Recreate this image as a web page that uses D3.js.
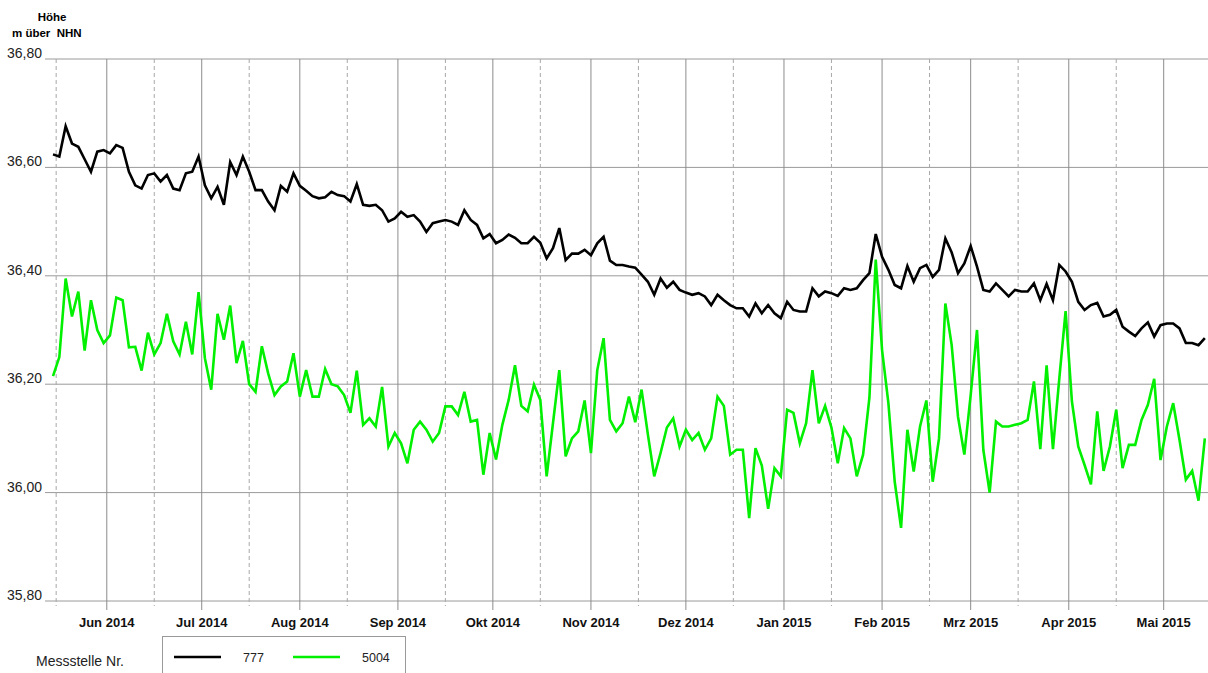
<!DOCTYPE html>
<html>
<head>
<meta charset="utf-8">
<script src="https://cdn.jsdelivr.net/npm/d3@7"></script>
<style>
  body { margin: 0; background: #fff; }
  svg { display: block; font-family: "Liberation Sans", Arial, sans-serif; }
</style>
</head>
<body>
<div id="chart"></div>
<script>
const svgWidth = 1208;
const svgHeight = 673;

// every second day from 15 May 2014
const startDate = new Date(2014, 4, 15);
const endDate = new Date(2015, 4, 15);
const stepDays = 2;

const yTicks = [35.8, 36.0, 36.2, 36.4, 36.6, 36.8];

const level777 = [
  36.624, 36.620, 36.676, 36.644, 36.638, 36.615, 36.592, 36.629, 36.632, 36.626,
  36.641, 36.636, 36.592, 36.567, 36.561, 36.586, 36.589, 36.574, 36.586, 36.561,
  36.558, 36.589, 36.592, 36.620, 36.567, 36.543, 36.564, 36.531, 36.610, 36.586,
  36.620, 36.592, 36.558, 36.558, 36.537, 36.521, 36.566, 36.555, 36.589, 36.566,
  36.557, 36.547, 36.543, 36.545, 36.555, 36.549, 36.547, 36.537, 36.569, 36.531,
  36.529, 36.531, 36.521, 36.500, 36.506, 36.518, 36.509, 36.512, 36.500, 36.481,
  36.497, 36.500, 36.503, 36.500, 36.494, 36.521, 36.503, 36.494, 36.469, 36.477,
  36.460, 36.466, 36.476, 36.470, 36.460, 36.460, 36.472, 36.461, 36.432, 36.451,
  36.488, 36.429, 36.441, 36.441, 36.448, 36.438, 36.460, 36.472, 36.428, 36.420,
  36.420, 36.417, 36.415, 36.402, 36.389, 36.365, 36.395, 36.378, 36.389, 36.374,
  36.369, 36.365, 36.368, 36.362, 36.346, 36.365, 36.355, 36.346, 36.340, 36.340,
  36.325, 36.349, 36.331, 36.346, 36.331, 36.322, 36.352, 36.337, 36.334, 36.334,
  36.377, 36.362, 36.371, 36.368, 36.363, 36.377, 36.374, 36.377, 36.392, 36.405,
  36.477, 36.435, 36.411, 36.383, 36.377, 36.418, 36.389, 36.414, 36.420, 36.398,
  36.411, 36.469, 36.443, 36.405, 36.423, 36.455, 36.417, 36.374, 36.371, 36.386,
  36.374, 36.362, 36.374, 36.371, 36.371, 36.386, 36.355, 36.385, 36.355, 36.420,
  36.408, 36.389, 36.352, 36.337, 36.346, 36.350, 36.325, 36.328, 36.337, 36.306,
  36.297, 36.289, 36.303, 36.314, 36.288, 36.309, 36.312, 36.312, 36.303, 36.276,
  36.276, 36.272, 36.285
];

const level5004 = [
  36.215, 36.250, 36.395, 36.325, 36.371, 36.262, 36.355, 36.300, 36.276, 36.290,
  36.360, 36.355, 36.268, 36.269, 36.225, 36.295, 36.255, 36.276, 36.330, 36.279,
  36.255, 36.315, 36.255, 36.370, 36.248, 36.190, 36.330, 36.282, 36.345, 36.239,
  36.280, 36.200, 36.186, 36.270, 36.220, 36.180, 36.196, 36.205, 36.257, 36.177,
  36.226, 36.177, 36.177, 36.228, 36.200, 36.196, 36.180, 36.147, 36.225, 36.125,
  36.137, 36.122, 36.195, 36.085, 36.110, 36.091, 36.054, 36.116, 36.131, 36.116,
  36.094, 36.110, 36.159, 36.159, 36.143, 36.186, 36.131, 36.134, 36.033, 36.110,
  36.061, 36.125, 36.171, 36.235, 36.160, 36.150, 36.199, 36.171, 36.030, 36.128,
  36.226, 36.067, 36.100, 36.113, 36.170, 36.073, 36.226, 36.285, 36.134, 36.113,
  36.128, 36.177, 36.130, 36.190, 36.107, 36.030, 36.073, 36.120, 36.137, 36.085,
  36.116, 36.097, 36.110, 36.079, 36.100, 36.177, 36.160, 36.070, 36.079, 36.079,
  35.953, 36.082, 36.050, 35.970, 36.045, 36.030, 36.153, 36.147, 36.091, 36.128,
  36.226, 36.128, 36.160, 36.120, 36.054, 36.119, 36.100, 36.030, 36.070, 36.175,
  36.430, 36.263, 36.165, 36.020, 35.935, 36.116, 36.039, 36.122, 36.170, 36.020,
  36.100, 36.349, 36.272, 36.140, 36.070, 36.180, 36.300, 36.079, 36.000, 36.131,
  36.122, 36.122, 36.125, 36.128, 36.134, 36.205, 36.080, 36.235, 36.080, 36.210,
  36.335, 36.168, 36.085, 36.051, 36.015, 36.150, 36.040, 36.085, 36.153, 36.045,
  36.088, 36.088, 36.134, 36.162, 36.210, 36.060, 36.122, 36.165, 36.097, 36.024,
  36.040, 35.985, 36.100
];

const seriesNames = ['777', '5004'];
const seriesColors = ['#000000', '#00f000'];

const deFormat = d3.formatLocale({ decimal: ',', thousands: '.', grouping: [3], currency: ['', ' €'] });
const fmtY = deFormat.format('.2f');
const deMonths = ['Jan', 'Feb', 'Mrz', 'Apr', 'Mai', 'Jun', 'Jul', 'Aug', 'Sep', 'Okt', 'Nov', 'Dez'];
const fmtX = (d) => `${deMonths[d.getMonth()]} ${d.getFullYear()}`;

const svg = d3.select('#chart').append('svg').attr('width', svgWidth).attr('height', svgHeight);

const x = d3.scaleTime().domain([startDate, endDate]).range([53, 1208]);
const y = d3.scaleLinear().domain([35.8, 36.8]).range([601, 59]);

const dates = level777.map((_, i) => d3.timeDay.offset(startDate, i * stepDays));

// horizontal grid + labels
const gridY = svg.append('g');
gridY
  .selectAll('line')
  .data(yTicks)
  .join('line')
  .attr('x1', 45)
  .attr('x2', svgWidth)
  .attr('y1', (d) => y(d))
  .attr('y2', (d) => y(d))
  .attr('stroke', '#9a9a9a')
  .attr('stroke-width', 1);
gridY
  .selectAll('text')
  .data(yTicks)
  .join('text')
  .attr('x', 42)
  .attr('y', (d) => y(d) - 1)
  .attr('text-anchor', 'end')
  .style('font-size', '14px')
  .attr('fill', '#222')
  .text((d) => fmtY(d));

// vertical grid: month starts solid, 16th dashed
const monthStarts = d3.timeMonth.range(d3.timeMonth.ceil(startDate), endDate);
const midMonths = d3.timeMonth
  .range(d3.timeMonth.floor(startDate), endDate)
  .map((d) => d3.timeDay.offset(d, 15))
  .filter((d) => d >= startDate && d <= endDate);

svg
  .append('g')
  .selectAll('line')
  .data(midMonths)
  .join('line')
  .attr('x1', (d) => x(d))
  .attr('x2', (d) => x(d))
  .attr('y1', y(36.8))
  .attr('y2', y(35.8) + 5)
  .attr('stroke', '#a8a8a8')
  .attr('stroke-width', 1)
  .attr('stroke-dasharray', '4 3');

svg
  .append('g')
  .selectAll('line')
  .data(monthStarts)
  .join('line')
  .attr('x1', (d) => x(d))
  .attr('x2', (d) => x(d))
  .attr('y1', y(36.8))
  .attr('y2', y(35.8) + 9)
  .attr('stroke', '#8c8c8c')
  .attr('stroke-width', 1);

svg
  .append('g')
  .selectAll('text')
  .data(monthStarts)
  .join('text')
  .attr('x', (d) => x(d))
  .attr('y', 627)
  .attr('text-anchor', 'middle')
  .style('font-size', '13px')
  .style('font-weight', 'bold')
  .attr('fill', '#111')
  .text((d) => fmtX(d));

// axis title
svg
  .append('text')
  .attr('x', 52)
  .attr('y', 21)
  .attr('text-anchor', 'middle')
  .style('font-size', '11.5px')
  .style('font-weight', 'bold')
  .text('Höhe');
svg
  .append('text')
  .attr('x', 12)
  .attr('y', 37)
  .style('font-size', '11.5px')
  .style('font-weight', 'bold')
  .style('white-space', 'pre')
  .attr('xml:space', 'preserve')
  .text('m über  NHN');

// lines
const line = d3
  .line()
  .x((d, i) => x(dates[i]))
  .y((d) => y(d));

const container = svg.append('g');
[level5004, level777].forEach((values) => {
  const idx = values === level777 ? 0 : 1;
  container
    .append('path')
    .datum(values)
    .attr('fill', 'none')
    .attr('stroke', seriesColors[idx])
    .attr('stroke-width', 2.6)
    .attr('stroke-linejoin', 'miter')
    .attr('d', line);
});

// legend
svg
  .append('text')
  .attr('x', 36)
  .attr('y', 666)
  .style('font-size', '14px')
  .attr('fill', '#222')
  .text('Messstelle Nr.');

const legend = svg.append('g');
legend
  .append('rect')
  .attr('x', 162.5)
  .attr('y', 636.5)
  .attr('width', 243)
  .attr('height', 60)
  .attr('fill', 'none')
  .attr('stroke', '#9a9a9a');

seriesNames.forEach((name, i) => {
  const g = legend.append('g').attr('transform', `translate(${174 + i * 119}, 657)`);
  g.append('line').attr('x1', 0).attr('x2', 47).attr('stroke', seriesColors[i]).attr('stroke-width', 2.6);
  g.append('text')
    .attr('x', 69)
    .attr('y', 5)
    .style('font-size', '12.5px')
    .attr('fill', '#222')
    .text(name);
});
</script>
</body>
</html>
